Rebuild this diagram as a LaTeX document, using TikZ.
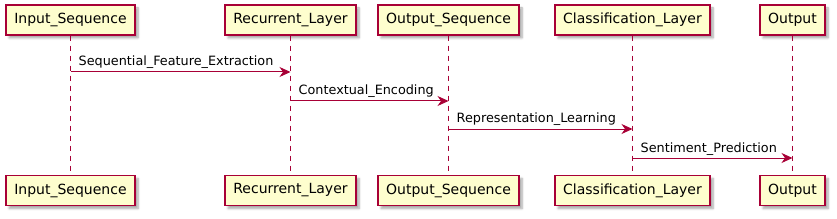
\documentclass[tikz,border=0pt]{standalone}
\usepackage{fontspec}
\setmainfont{DejaVu Sans}
\usetikzlibrary{arrows.meta,shadows.blur}
\definecolor{pfill}{HTML}{FEFECE}
\definecolor{pline}{HTML}{A80036}
\tikzset{
  participant/.style={draw=pline, line width=1.4pt, fill=pfill, minimum height=30pt,
    inner sep=0pt, font=\fontsize{14}{16}\selectfont,
    blur shadow={shadow xshift=3pt, shadow yshift=-3pt, shadow blur steps=6, shadow opacity=35}},
  lifeline/.style={color=pline, line width=1pt, dash pattern=on 5pt off 5pt},
  msg/.style={color=pline, line width=1pt, -{Stealth[length=11pt,width=10pt,inset=3.5pt]}},
  msglabel/.style={anchor=base west, inner sep=0pt, font=\fontsize{12.8}{15}\selectfont}
}
\begin{document}
\begin{tikzpicture}[x=1pt,y=-1pt]
\useasboundingbox (0,0) rectangle (837,219);
% top participants
\node[participant, minimum width=129pt] (tIn) at (70.5,20) {Input\_Sequence};
\node[participant, minimum width=131pt] (tRec) at (290.5,20) {Recurrent\_Layer};
\node[participant, minimum width=141pt] (tOut) at (448.5,20) {Output\_Sequence};
\node[participant, minimum width=155pt] (tCls) at (632.5,20) {Classification\_Layer};
\node[participant, minimum width=65pt] (tRes) at (792.5,20) {Output};
% bottom participants
\node[participant, minimum width=129pt] (bIn) at (70.5,190.5) {Input\_Sequence};
\node[participant, minimum width=131pt] (bRec) at (290.5,190.5) {Recurrent\_Layer};
\node[participant, minimum width=141pt] (bOut) at (448.5,190.5) {Output\_Sequence};
\node[participant, minimum width=155pt] (bCls) at (632.5,190.5) {Classification\_Layer};
\node[participant, minimum width=65pt] (bRes) at (792.5,190.5) {Output};
% lifelines
\draw[lifeline] (tIn.south) -- (bIn.north);
\draw[lifeline] (tRec.south) -- (bRec.north);
\draw[lifeline] (tOut.south) -- (bOut.north);
\draw[lifeline] (tCls.south) -- (bCls.north);
\draw[lifeline] (tRes.south) -- (bRes.north);
% message end points
\coordinate (m1s) at (tIn.south |- 0,72);
\coordinate (m1e) at (tRec.south |- 0,72);
\coordinate (m2s) at (tRec.south |- 0,101);
\coordinate (m2e) at (tOut.south |- 0,101);
\coordinate (m3s) at (tOut.south |- 0,129);
\coordinate (m3e) at (tCls.south |- 0,129);
\coordinate (m4s) at (tCls.south |- 0,158);
\coordinate (m4e) at (tRes.south |- 0,158);
\draw[msg] (m1s) -- (m1e);
\draw[msg] (m2s) -- (m2e);
\draw[msg] (m3s) -- (m3e);
\draw[msg] (m4s) -- (m4e);
\node[msglabel] (l1) at ([xshift=8pt,yshift=6pt]m1s) {Sequential\_Feature\_Extraction};
\node[msglabel] (l2) at ([xshift=8pt,yshift=6pt]m2s) {Contextual\_Encoding};
\node[msglabel] (l3) at ([xshift=8pt,yshift=6pt]m3s) {Representation\_Learning};
\node[msglabel] (l4) at ([xshift=8pt,yshift=6pt]m4s) {Sentiment\_Prediction};
\end{tikzpicture}
\end{document}
